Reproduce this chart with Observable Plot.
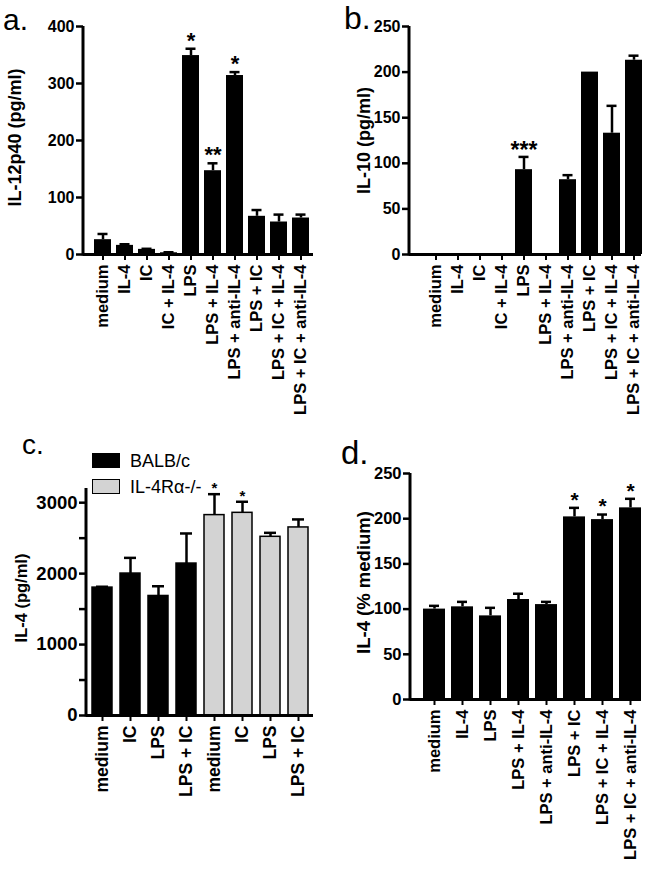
<!DOCTYPE html>
<html><head><meta charset="utf-8">
<script src="https://cdn.jsdelivr.net/npm/d3@7"></script>
<script src="https://cdn.jsdelivr.net/npm/@observablehq/plot@0.6"></script>
<style>
body{margin:0;background:#fff;font-family:Arial,"Liberation Sans",sans-serif}
#root{position:relative;width:648px;height:871px;overflow:hidden;background:#fff}
.panel{position:absolute}
.panel svg{overflow:visible}
.letter{position:absolute;font-family:Arial,"Liberation Sans",sans-serif;font-weight:normal;line-height:1;color:#000}
.leg{position:absolute;font-family:Arial,"Liberation Sans",sans-serif;font-size:18px;color:#000;line-height:1}
.sw{position:absolute;box-sizing:border-box}
</style></head>
<body><div id="root"></div>
<script>
// ---- Panel a: IL-12p40 ----
const catsA = ["medium","IL-4","IC","IC + IL-4","LPS","LPS + IL-4","LPS + anti-IL-4","LPS + IC","LPS + IC + IL-4","LPS + IC + anti-IL-4"];
const valsA = [26,16,9,3,349,147,314,67,57,64];
const errA  = [36,18,10,4,361,160,320,78,70,70];
const starsA = ["","","","","*","**","*","","",""];
const ticksA = [0,100,200,300,400];
const titleA = "IL-12p40 (pg/ml)";

// ---- Panel b: IL-10 ----
const catsB = ["medium","IL-4","IC","IC + IL-4","LPS","LPS + IL-4","LPS + anti-IL-4","LPS + IC","LPS + IC + IL-4","LPS + IC + anti-IL-4"];
const valsB = [0,0,0,0,93,0,82,200,133,213];
const errB  = [0,0,0,0,107,0,87,200,163,218];
const starsB = ["","","","","***","","","","",""];
const ticksB = [0,50,100,150,200,250];
const titleB = "IL-10 (pg/ml)";

// ---- Panel c: IL-4 by strain ----
const catsC = ["medium","IC","LPS","LPS + IC","medium","IC","LPS","LPS + IC"];
const groupsC = ["BALB/c","BALB/c","BALB/c","BALB/c","IL-4Rα-/-","IL-4Rα-/-","IL-4Rα-/-","IL-4Rα-/-"];
const valsC = [1803,2001,1685,2142,2825,2857,2519,2651];
const errC  = [1815,2222,1822,2566,3120,3013,2575,2764];
const starsC = ["","","","","*","*","",""];
const ticksC = [0,500,1000,1500,2000,2500,3000];
const legendC = ["BALB/c","IL-4Rα-/-"];
const fillsC = ["#000000","#d3d3d3"];
const titleC = "IL-4 (pg/ml)";

// ---- Panel d: IL-4 % medium ----
const catsD = ["medium","IL-4","LPS","LPS + IL-4","LPS + anti-IL-4","LPS + IC","LPS + IC + IL-4","LPS + IC + anti-IL-4"];
const valsD = [100,102.5,92.5,110.6,105,202,199,212];
const errD  = [103.6,108,101.4,117,108,212,204.6,222];
const starsD = ["","","","","","*","*","*"];
const ticksD = [0,50,100,150,200,250];
const titleD = "IL-4 (% medium)";

const FONT = "Arial, 'Liberation Sans', sans-serif";
const root = document.getElementById("root");

function panel(cfg){
  const groups = cfg.groups || cfg.cats.map(()=> "all");
  const gdom = cfg.gdom || ["all"];
  const grange = cfg.grange || ["#000000"];
  const data = cfg.cats.map((c,i)=>({k:i,label:c,v:cfg.vals[i],e:cfg.errs[i],s:cfg.stars[i],g:groups[i]}));
  const chart = Plot.plot({
    width: cfg.w, height: cfg.h,
    marginLeft: cfg.ml, marginRight: cfg.mr, marginTop: cfg.mt, marginBottom: cfg.mb,
    style: {fontFamily: FONT, fontWeight: "bold", fontSize: cfg.yfs + "px", background: "transparent", color: "#000"},
    x: {domain: data.map(d=>d.k), paddingInner: cfg.pi, paddingOuter: cfg.po, align: cfg.align},
    y: {domain: cfg.yDomain},
    color: {domain: gdom, range: grange},
    marks: [
      Plot.barY(data, {x:"k", y:"v", fill:"g", stroke:"#000", strokeWidth: cfg.barStroke || 0}),
      Plot.ruleX(data.filter(d=>d.e>d.v), {x:"k", y1:"v", y2:"e", strokeWidth: 2.5, stroke:"#000"}),
      Plot.tickY(data.filter(d=>d.e>d.v), {x:"k", y:"e", strokeWidth: 2.5, stroke:"#000", inset: cfg.capInset}),
      Plot.ruleY([0], {strokeWidth: 3, stroke:"#000"}),
      Plot.axisY({ticks: cfg.ticks, tickFormat: cfg.tickFormat || (d=>d), tickSize: 7, tickPadding: 2, strokeWidth: 2.5, fontSize: cfg.yfs, label: null}),
      Plot.axisX({tickFormat: k=>cfg.cats[k], tickRotate: -90, tickSize: 6, tickPadding: 4, strokeWidth: 2, fontSize: cfg.xfs, label: null}),
      Plot.text([cfg.title], {text: d=>d, frameAnchor: "left", textAnchor: "middle", rotate: -90, dx: cfg.titleDx, dy: cfg.titleDy || 0, fontSize: cfg.tfs}),
      Plot.text(data.filter(d=>d.s), {x:"k", y:"e", text:"s", dy: cfg.starDy, fontSize: cfg.sfs})
    ]
  });
  // enforce axis font sizes
  const sel = d3.select(chart);
  sel.selectAll('g[aria-label="x-axis tick label"]').attr("font-size", cfg.xfs).selectAll("text").attr("font-size", cfg.xfs);
  sel.selectAll('g[aria-label="y-axis tick label"]').attr("font-size", cfg.yfs).selectAll("text").attr("font-size", cfg.yfs);
  // vertical y-axis line, from the scale's range
  const ys = chart.scale("y");
  sel.append("line")
    .attr("x1", cfg.ml).attr("x2", cfg.ml)
    .attr("y1", ys.range[0] + 1.5).attr("y2", ys.range[1])
    .attr("stroke", "#000").attr("stroke-width", 3);
  const div = document.createElement("div");
  div.className = "panel";
  div.style.left = cfg.left + "px";
  div.style.top = cfg.top + "px";
  div.appendChild(chart);
  root.appendChild(div);
  return chart;
}

panel({left:0, top:0, w:324, h:425, ml:83, mr:11, mt:26, mb:171,
  cats:catsA, vals:valsA, errs:errA, stars:starsA, ticks:ticksA, yDomain:[0,400],
  pi:0.25, po:0.19, align:0.68, capInset:3.5, yfs:16, xfs:16.5, tfs:18, title:titleA, titleDx:-68, titleDy:-3,
  sfs:22, starDy:-8});

panel({left:324, top:0, w:324, h:425, ml:85, mr:7, mt:26, mb:171,
  cats:catsB, vals:valsB, errs:errB, stars:starsB, ticks:ticksB, yDomain:[0,250],
  pi:0.25, po:0.19, align:1, capInset:3.5, yfs:16, xfs:16.5, tfs:18, title:titleB, titleDx:-45,
  sfs:23, starDy:-6});

panel({left:0, top:420, w:324, h:385, ml:86, mr:11, mt:68, mb:90,
  cats:catsC, vals:valsC, errs:errC, stars:starsC, ticks:ticksC, yDomain:[0,3200],
  tickFormat: d => d % 1000 === 0 ? String(d) : "",
  groups:groupsC, gdom:legendC, grange:fillsC, barStroke:1.5,
  pi:0.3, po:0.146, align:0.5, capInset:4, yfs:18.5, xfs:17.5, tfs:16.5, title:titleC, titleDx:-65, titleDy:-4,
  sfs:15, starDy:-6});

panel({left:324, top:420, w:324, h:451, ml:86, mr:7, mt:53, mb:172,
  cats:catsD, vals:valsD, errs:errD, stars:starsD, ticks:ticksD, yDomain:[0,250],
  pi:0.2, po:0.124, align:1, capInset:6, yfs:16.5, xfs:16.5, tfs:18.5, title:titleD, titleDx:-46, titleDy:-4,
  sfs:21, starDy:-8});

// panel letters
const letters = [["a.",3,5,30],["b.",344,2,32],["c.",22,431,28],["d.",341,436,33]];
for (const [t,x,y,fs] of letters){
  const el = document.createElement("div");
  el.className = "letter"; el.textContent = t;
  el.style.left = x+"px"; el.style.top = y+"px"; el.style.fontSize = fs+"px";
  root.appendChild(el);
}

// legend for panel c
legendC.forEach((name,i)=>{
  const sw = document.createElement("div");
  sw.className = "sw";
  sw.style.left = "92px"; sw.style.top = (453 + i*26) + "px";
  sw.style.width = "28px"; sw.style.height = "15px";
  sw.style.background = fillsC[i]; sw.style.border = "1.5px solid #000";
  root.appendChild(sw);
  const tx = document.createElement("div");
  tx.className = "leg"; tx.textContent = name;
  tx.style.left = "130px"; tx.style.top = (452 + i*26) + "px";
  root.appendChild(tx);
});
</script>
</body></html>
